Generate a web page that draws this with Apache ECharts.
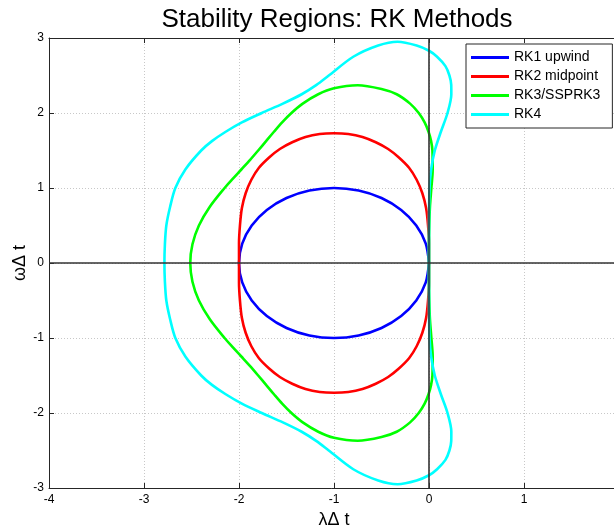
<!DOCTYPE html>
<html>
<head>
<meta charset="utf-8">
<script src="https://cdn.jsdelivr.net/npm/echarts@6/dist/echarts.min.js"></script>
<style>
  html, body { margin: 0; padding: 0; background: #fff; }
  #main { width: 614px; height: 529px; }
</style>
</head>
<body>
<div id="main"></div>
<script>
// boundary points, [lambda dt, omega dt]
const rk1 = [
  [0, 0], [-0.034, 0.259], [-0.134, 0.5], [-0.293, 0.707], [-0.5, 0.866], [-0.741, 0.966],
  [-1, 1], [-1.259, 0.966], [-1.5, 0.866], [-1.707, 0.707], [-1.866, 0.5], [-1.966, 0.259],
  [-2, 0], [-1.966, -0.259], [-1.866, -0.5], [-1.707, -0.707], [-1.5, -0.866], [-1.259, -0.966],
  [-1, -1], [-0.741, -0.966], [-0.5, -0.866], [-0.293, -0.707], [-0.134, -0.5], [-0.034, -0.259], [0, 0]
];
const rk2 = [
  [0, 0], [0, 0.26], [-0.01, 0.5], [-0.03, 0.73], [-0.07, 0.93], [-0.13, 1.11], [-0.21, 1.27],
  [-0.32, 1.41], [-0.43, 1.52], [-0.56, 1.61], [-0.7, 1.68], [-0.85, 1.72], [-1, 1.73],
  [-1.15, 1.72], [-1.3, 1.68], [-1.44, 1.61], [-1.57, 1.52], [-1.68, 1.41], [-1.79, 1.27],
  [-1.87, 1.11], [-1.93, 0.93], [-1.97, 0.73], [-1.99, 0.5], [-2, 0.26], [-2, 0],
  [-2, -0.26], [-1.99, -0.5], [-1.97, -0.73], [-1.93, -0.93], [-1.87, -1.11], [-1.79, -1.27],
  [-1.68, -1.41], [-1.57, -1.52], [-1.44, -1.61], [-1.3, -1.68], [-1.15, -1.72], [-1, -1.73],
  [-0.85, -1.72], [-0.7, -1.68], [-0.56, -1.61], [-0.43, -1.52], [-0.32, -1.41], [-0.21, -1.27],
  [-0.13, -1.11], [-0.07, -0.93], [-0.03, -0.73], [-0.01, -0.5], [0, -0.26], [0, 0]
];
const rk3 = [
  [0, 0], [0, 0.25], [0.003, 0.5], [0.01, 0.75], [0.025, 1.0], [0.039, 1.25], [0.036, 1.5],
  [0.022, 1.625], [-0.005, 1.75], [-0.046, 1.875], [-0.108, 2.0], [-0.199, 2.125], [-0.34, 2.25],
  [-0.5, 2.32], [-0.75, 2.37], [-1.0, 2.33], [-1.166, 2.25], [-1.329, 2.125], [-1.448, 2.0],
  [-1.546, 1.875], [-1.632, 1.75], [-1.715, 1.625], [-1.798, 1.5], [-1.883, 1.375], [-1.973, 1.25],
  [-2.064, 1.125], [-2.152, 1.0], [-2.307, 0.75], [-2.422, 0.5], [-2.49, 0.25], [-2.513, 0],
  [-2.49, -0.25], [-2.422, -0.5], [-2.307, -0.75], [-2.152, -1.0], [-2.064, -1.125], [-1.973, -1.25],
  [-1.883, -1.375], [-1.798, -1.5], [-1.715, -1.625], [-1.632, -1.75], [-1.546, -1.875], [-1.448, -2.0],
  [-1.329, -2.125], [-1.166, -2.25], [-1.0, -2.33], [-0.75, -2.37], [-0.5, -2.32], [-0.34, -2.25],
  [-0.199, -2.125], [-0.108, -2.0], [-0.046, -1.875], [-0.005, -1.75], [0.022, -1.625], [0.036, -1.5],
  [0.039, -1.25], [0.025, -1.0], [0.01, -0.75], [0.003, -0.5], [0, -0.25], [0, 0]
];
const rk4 = [
  [0, 0], [0, 0.5], [0.006, 1.0], [0.023, 1.25], [0.061, 1.5], [0.125, 1.75], [0.195, 2.0],
  [0.235, 2.25], [0.234, 2.375], [0.215, 2.5], [0.173, 2.625], [0.085, 2.75], [0, 2.83],
  [-0.13, 2.9], [-0.33, 2.95], [-0.535, 2.9], [-0.797, 2.75], [-1.055, 2.5], [-1.184, 2.375],
  [-1.34, 2.25], [-1.538, 2.125], [-1.76, 2.0], [-1.97, 1.875], [-2.14, 1.75], [-2.285, 1.625],
  [-2.398, 1.5], [-2.563, 1.25], [-2.67, 1.0], [-2.725, 0.75], [-2.765, 0.5], [-2.78, 0.25], [-2.785, 0],
  [-2.78, -0.25], [-2.765, -0.5], [-2.725, -0.75], [-2.67, -1.0], [-2.563, -1.25], [-2.398, -1.5],
  [-2.285, -1.625], [-2.14, -1.75], [-1.97, -1.875], [-1.76, -2.0], [-1.538, -2.125], [-1.34, -2.25],
  [-1.184, -2.375], [-1.055, -2.5], [-0.797, -2.75], [-0.535, -2.9], [-0.33, -2.95], [-0.13, -2.9],
  [0, -2.83], [0.085, -2.75], [0.173, -2.625], [0.215, -2.5], [0.234, -2.375], [0.235, -2.25],
  [0.195, -2.0], [0.125, -1.75], [0.061, -1.5], [0.023, -1.25], [0.006, -1.0], [0, -0.5], [0, 0]
];
const zeroV = [[0, -3], [0, 3]];
const zeroH = [[-4, 0], [2, 0]];
const names = ['RK1 upwind', 'RK2 midpoint', 'RK3/SSPRK3', 'RK4'];
const colors = ['#0000ff', '#ff0000', '#00ff00', '#00ffff'];

const chart = echarts.init(document.getElementById('main'));
const font = 'Liberation Sans, Arial, sans-serif';
const tickStyle = { show: true, inside: true, length: 5, lineStyle: { color: '#262626' } };

function curve(name, data, color) {
  return {
    name: name, type: 'line', data: data, symbol: 'none', smooth: 0.3,
    lineStyle: { color: color, width: 2.6 }, itemStyle: { color: color }, z: 3
  };
}

chart.setOption({
  animation: false,
  backgroundColor: '#fff',
  title: {
    text: 'Stability Regions: RK Methods',
    left: 332, top: 2, textAlign: 'center',
    textStyle: { fontFamily: font, fontSize: 26, fontWeight: 'normal', color: '#000' }
  },
  legend: {
    data: names, orient: 'vertical', left: 466, top: 44,
    icon: 'rect', itemWidth: 38, itemHeight: 3, itemGap: 0,
    padding: [4, 12, 4, 5],
    borderColor: '#262626', borderWidth: 1, backgroundColor: '#fff',
    textStyle: { fontFamily: font, fontSize: 14, color: '#000', lineHeight: 19 }
  },
  grid: { left: 49, right: -5, top: 38, bottom: 41, containLabel: false, outerBoundsMode: 'none' },
  xAxis: [{
    type: 'value', min: -4, max: 2, interval: 1,
    name: 'λΔ t', nameLocation: 'middle', nameGap: 22,
    nameTextStyle: { fontFamily: font, fontSize: 18, color: '#000' },
    axisLine: { show: true, onZero: false, lineStyle: { color: '#262626', width: 1 } },
    axisTick: tickStyle,
    axisLabel: { fontFamily: font, fontSize: 12, color: '#000', margin: 6 },
    splitLine: { show: true, lineStyle: { color: '#c8c8c8', type: [1, 2] } }
  }, {
    type: 'value', min: -4, max: 2, interval: 1, position: 'top',
    axisLine: { show: true, onZero: false, lineStyle: { color: '#262626', width: 1 } },
    axisTick: tickStyle, axisLabel: { show: false }, splitLine: { show: false }
  }],
  yAxis: {
    type: 'value', min: -3, max: 3, interval: 1,
    name: 'ωΔ t', nameLocation: 'middle', nameGap: 20, nameRotate: 90, nameMoveOverlap: false,
    nameTextStyle: { fontFamily: font, fontSize: 18, color: '#000' },
    axisLine: { show: true, onZero: false, lineStyle: { color: '#262626', width: 1 } },
    axisTick: tickStyle,
    axisLabel: { fontFamily: font, fontSize: 12, color: '#000', margin: 5 },
    splitLine: { show: true, lineStyle: { color: '#c8c8c8', type: [1, 2] } }
  },
  series: [
    curve(names[0], rk1, colors[0]),
    curve(names[1], rk2, colors[1]),
    curve(names[2], rk3, colors[2]),
    curve(names[3], rk4, colors[3]),
    { type: 'line', data: zeroV, symbol: 'none', lineStyle: { color: '#333', width: 1.6 }, z: 4, silent: true },
    { type: 'line', data: zeroH, symbol: 'none', lineStyle: { color: '#333', width: 1.6 }, z: 4, silent: true }
  ]
});
</script>
</body>
</html>
